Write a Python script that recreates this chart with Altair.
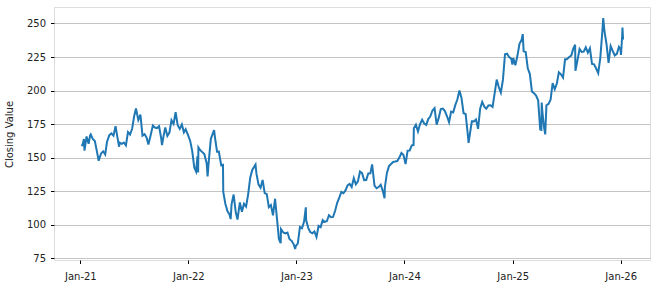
import altair as alt
import pandas as pd

dates = [
    "2021-01-04","2021-01-08","2021-01-13","2021-01-15","2021-01-22","2021-01-29","2021-02-03","2021-02-05",
    "2021-02-12","2021-02-19","2021-02-26","2021-03-04","2021-03-12","2021-03-19","2021-03-26","2021-04-01",
    "2021-04-09","2021-04-16","2021-04-23","2021-04-30","2021-05-07","2021-05-12","2021-05-14","2021-05-21",
    "2021-05-28","2021-06-04","2021-06-11","2021-06-18","2021-06-25","2021-07-02","2021-07-08","2021-07-16",
    "2021-07-23","2021-07-30","2021-08-06","2021-08-13","2021-08-19","2021-08-27","2021-09-03","2021-09-10",
    "2021-09-17","2021-09-24","2021-10-01","2021-10-04","2021-10-08","2021-10-15","2021-10-22","2021-10-29",
    "2021-11-05","2021-11-12","2021-11-19","2021-11-26","2021-12-03","2021-12-10","2021-12-17","2021-12-23",
    "2021-12-31",
    "2022-01-07","2022-01-14","2022-01-21","2022-01-27","2022-02-01","2022-02-03","2022-02-04","2022-02-11",
    "2022-02-24","2022-03-04","2022-03-07","2022-03-11","2022-03-18","2022-03-29","2022-04-01","2022-04-08",
    "2022-04-14","2022-04-22","2022-04-28","2022-04-29","2022-05-06","2022-05-13","2022-05-20","2022-05-24",
    "2022-05-27","2022-06-03","2022-06-10","2022-06-16","2022-06-24","2022-07-01","2022-07-08","2022-07-15",
    "2022-07-22","2022-07-29","2022-08-05","2022-08-16","2022-08-19","2022-08-26","2022-09-02","2022-09-09",
    "2022-09-16","2022-09-23","2022-09-30","2022-10-07","2022-10-14","2022-10-21","2022-10-28","2022-11-03",
    "2022-11-09","2022-11-10","2022-11-18","2022-11-25","2022-12-02","2022-12-09","2022-12-16","2022-12-23",
    "2022-12-28","2022-12-30",
    "2023-01-06","2023-01-13","2023-01-20","2023-01-27","2023-02-02","2023-02-03","2023-02-10","2023-02-17",
    "2023-02-24","2023-03-03","2023-03-10","2023-03-17","2023-03-24","2023-03-31","2023-04-06","2023-04-14",
    "2023-04-21","2023-04-28","2023-05-05","2023-05-12","2023-05-19","2023-05-26","2023-06-02","2023-06-09",
    "2023-06-16","2023-06-23","2023-06-30","2023-07-07","2023-07-14","2023-07-21","2023-07-28","2023-08-04",
    "2023-08-11","2023-08-18","2023-08-25","2023-09-01","2023-09-08","2023-09-14","2023-09-22","2023-09-29",
    "2023-10-06","2023-10-13","2023-10-20","2023-10-26","2023-10-27","2023-11-03","2023-11-10","2023-11-17",
    "2023-11-24","2023-12-01","2023-12-08","2023-12-15","2023-12-22","2023-12-29",
    "2024-01-05","2024-01-12","2024-01-19","2024-01-26","2024-02-01","2024-02-02","2024-02-09","2024-02-16",
    "2024-02-23","2024-03-01","2024-03-08","2024-03-15","2024-03-22","2024-03-28","2024-04-05","2024-04-12",
    "2024-04-19","2024-04-26","2024-05-03","2024-05-10","2024-05-17","2024-05-24","2024-05-31","2024-06-07",
    "2024-06-14","2024-06-21","2024-06-28","2024-07-05","2024-07-12","2024-07-19","2024-07-26","2024-08-02",
    "2024-08-05","2024-08-09","2024-08-16","2024-08-23","2024-08-30","2024-09-06","2024-09-13","2024-09-20",
    "2024-09-27","2024-10-04","2024-10-11","2024-10-18","2024-10-25","2024-11-01","2024-11-08","2024-11-15",
    "2024-11-22","2024-11-29","2024-12-06","2024-12-13","2024-12-20","2024-12-27","2024-12-31",
    "2025-01-03","2025-01-10","2025-01-17","2025-01-24","2025-01-31","2025-02-04","2025-02-07","2025-02-14",
    "2025-02-21","2025-02-28","2025-03-07","2025-03-14","2025-03-21","2025-03-28","2025-04-04","2025-04-08",
    "2025-04-09","2025-04-11","2025-04-17","2025-04-21","2025-04-25","2025-05-02","2025-05-09","2025-05-16",
    "2025-05-23","2025-05-30","2025-06-06","2025-06-13","2025-06-20","2025-06-27","2025-07-03","2025-07-11",
    "2025-07-18","2025-07-25","2025-07-31","2025-08-01","2025-08-08","2025-08-15","2025-08-22","2025-08-29",
    "2025-09-05","2025-09-12","2025-09-19","2025-09-26","2025-10-03","2025-10-10","2025-10-17","2025-10-24",
    "2025-10-31","2025-11-03","2025-11-07","2025-11-14","2025-11-21","2025-11-28","2025-12-05","2025-12-12",
    "2025-12-19","2025-12-26","2025-12-31","2026-01-02","2026-01-06","2026-01-07","2026-01-09",
]

closing = [
    159.3,159.1,163.9,155.2,165.7,160.3,166.6,167.3,
    163.9,162.3,154.6,147.6,153.1,154.7,152.3,161.6,
    166.7,168.0,166.3,173.4,164.3,158.1,161.2,160.3,
    161.2,159.0,169.0,167.2,171.5,181.0,186.6,178.0,
    182.0,166.4,167.5,164.8,159.8,167.1,173.9,172.4,
    172.0,173.4,164.6,159.3,164.6,172.4,166.1,168.6,
    177.8,175.1,183.8,174.2,171.4,174.7,168.8,171.1,
    166.7,
    162.6,155.0,142.6,139.6,151.1,138.8,157.6,155.3,
    152.6,145.6,136.0,147.3,164.0,170.4,164.9,154.4,
    154.5,144.3,144.6,124.3,115.6,110.1,107.6,104.1,
    115.1,122.4,109.6,103.7,116.5,109.6,115.5,113.5,
    122.4,135.0,140.8,144.8,138.2,130.0,127.5,133.3,
    123.5,122.7,113.0,114.6,106.9,119.3,103.4,89.3,
    86.1,96.6,94.1,93.4,94.1,89.1,87.9,85.3,
    81.8,84.0,
    86.1,98.1,97.3,102.2,112.9,103.4,97.6,94.4,
    93.5,94.9,90.7,99.0,98.1,103.3,102.1,102.5,
    107.0,105.5,105.7,110.3,116.3,120.1,124.3,123.4,
    125.5,129.3,130.4,128.1,134.7,130.0,132.2,139.6,
    138.4,133.2,133.3,138.1,138.2,144.9,129.1,127.1,
    128.0,129.8,125.2,119.6,127.7,138.6,143.6,145.2,
    146.7,147.0,147.4,150.0,153.4,151.9,
    145.2,155.2,155.3,159.1,159.3,171.8,174.5,169.5,
    175.0,178.2,175.4,174.4,178.9,180.4,185.1,186.9,
    174.6,179.6,186.2,186.5,184.7,180.8,176.4,184.3,
    183.7,189.1,193.3,200.0,194.5,183.1,182.5,167.9,
    161.0,166.9,177.1,177.0,178.5,171.4,186.5,191.6,
    188.0,186.5,188.8,189.0,187.8,197.9,208.2,202.6,
    198.4,207.9,227.0,227.5,224.9,223.8,219.4,
    224.2,218.9,225.9,234.9,237.7,242.1,229.2,228.7,
    216.6,212.3,199.3,198.0,196.2,192.7,171.0,170.7,
    191.1,184.9,172.6,167.3,189.0,190.0,193.1,205.6,
    201.0,205.0,213.6,212.1,209.7,223.3,223.4,225.0,
    226.1,231.4,234.1,214.8,222.7,231.0,228.8,229.0,
    232.3,228.2,231.5,219.8,219.5,216.4,213.0,224.2,
    244.2,254.0,244.4,234.7,220.7,233.2,229.5,226.2,
    227.4,232.5,230.8,226.5,240.9,247.0,238.0,
]

y_ticks = [75, 100, 125, 150, 175, 200, 225, 250]
x_tick_years = [2021, 2022, 2023, 2024, 2025, 2026]

df = pd.DataFrame({"date": dates, "close": closing})

FONT = "DejaVu Sans"

x_enc = alt.X(
    "date:T",
    scale=alt.Scale(
        type="utc",
        domain=[alt.DateTime(year=2020, month=10, date=4, utc=True),
                alt.DateTime(year=2026, month=4, date=10, utc=True)],
        nice=False,
    ),
    axis=alt.Axis(
        values=[alt.DateTime(year=yr, month=1, date=1, utc=True) for yr in x_tick_years],
        labelExpr="utcFormat(datum.value, '%b-%y')",
        title=None,
        grid=False,
        domain=False,
        tickColor="black",
        tickSize=3.5,
        tickWidth=1,
        labelPadding=8,
        labelFontSize=10,
        labelFont=FONT,
        labelColor="#222222",
    ),
)

y_enc = alt.Y(
    "close:Q",
    scale=alt.Scale(domain=[73.6, 262.3], nice=False, zero=False),
    axis=alt.Axis(
        values=y_ticks,
        title="Closing Value",
        titleFont=FONT,
        titleFontSize=10,
        titleFontWeight="normal",
        titleColor="#222222",
        titleAngle=-90,
        titleX=-45,
        titleY=127,
        titleAlign="center",
        titleBaseline="middle",
        grid=True,
        gridColor="#c4c4c4",
        gridWidth=1.2,
        domain=False,
        tickColor="black",
        tickSize=3.5,
        tickWidth=1,
        labelPadding=5,
        labelFontSize=10,
        labelFont=FONT,
        labelColor="#222222",
    ),
)

chart = (
    alt.Chart(df)
    .mark_line(color="#1f77b4", strokeWidth=2, clip=True)
    .encode(x=x_enc, y=y_enc)
    .properties(
        width=596,
        height=253,
        autosize=alt.AutoSizeParams(type="none"),
        padding={"left": 54, "top": 7, "right": 6, "bottom": 26},
    )
    .configure_view(stroke="#222222", strokeWidth=1.2)
    .configure(background="white")
)

chart.save("out.html", embed_options={"renderer": "svg", "actions": False})
